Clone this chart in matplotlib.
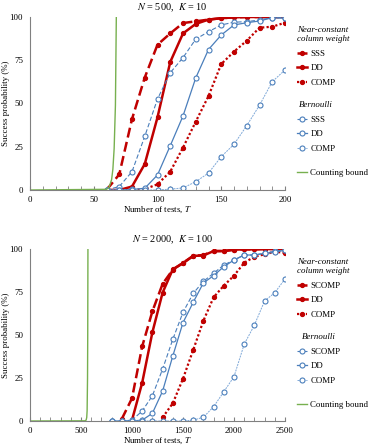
import matplotlib
matplotlib.use("Agg")
import matplotlib.pyplot as plt

plt.rcParams['font.family'] = ['Liberation Serif', 'DejaVu Serif']
plt.rcParams['mathtext.fontset'] = 'stix'
plt.rcParams['font.size'] = 6.4

# ---- N = 500, K = 10 ----
t1 = [60, 70, 80, 90, 100, 110, 120, 130, 140, 150, 160, 170, 180, 190, 200]
nc_sss_1 = [0, 9, 41, 65, 84, 90.5, 96.5, 97.5, 98.5, 99.3, 99.8, 100, 100, 100, 100]
nc_dd_1 = [0, 0, 2, 15, 42, 74, 90.5, 96, 98.5, 99.3, 99.8, 100, 100, 100, 100]
nc_comp_1 = [0, 0, 0, 0.5, 3.3, 10.6, 24.5, 39.5, 54.3, 72.8, 80, 86.3, 93.8, 94.4, 96.7]
be_sss_1 = [0, 2, 10.6, 31, 52.6, 67.8, 76.5, 87.2, 91.5, 95.4, 97, 97.3, 98.3, 99.6, 99.6]
be_dd_1 = [0, 0, 0.3, 1, 8.7, 25.6, 42.8, 64.8, 81.2, 89.6, 95.4, 96.7, 97.7, 99.6, 99.3]
be_comp_1 = [0, 0, 0, 0, 0, 0.5, 1.2, 4.8, 9.8, 19.3, 26.4, 37.2, 49, 62.6, 69.4]
cb_t1 = [0, 60, 62, 64, 65, 66, 67, 67.7]
cb_p1 = [0, 0.4, 1.5, 6, 12, 24, 49, 100]

# ---- N = 2000, K = 100 ----
t2 = [800, 900, 1000, 1100, 1200, 1300, 1400, 1500, 1600, 1700, 1800,
      1900, 2000, 2100, 2200, 2300, 2400, 2500]
t2_scomp = t2[1:]
nc_scomp_2 = [1.2, 13.2, 43.4, 63.8, 79.7, 88, 92, 96, 96.5, 98.8, 98.8,
              99.6, 99.8, 99.8, 100, 100, 100]
t2_dd = t2[2:]
nc_dd_2 = [0.5, 22.3, 51.6, 74.6, 88.2, 91.7, 96, 96.2, 98.8, 98.8,
           99.6, 99.8, 99.8, 100, 100, 100]
t2_comp = t2[5:]
nc_comp_2 = [2.1, 10.3, 24.6, 41.3, 58.3, 71.9, 78.7, 84.5, 92, 95.5, 96.9, 98.4, 97.8]
be_scomp_2 = [0, 0, 0.5, 5.8, 14.7, 30.2, 47.5, 63.2, 74.2, 81.2, 85.9,
              90.7, 93.6, 96.5, 96.5, 97.5, 98.8, 99.4]
be_dd_2 = [0, 0, 0, 0.5, 4.5, 17.4, 37.8, 57.2, 69, 80.3, 84.5,
           89.7, 93.6, 96.5, 96.5, 97.5, 98, 99.4]
be_comp_2 = [0, 0, 0, 0, 0, 0, 0, 0, 0.5, 2.2, 8.3, 17, 25.8, 44.6,
             55.8, 69.8, 74.6, 82.6]
cb_t2 = [0, 540, 550, 556, 560, 564, 566, 568]
cb_p2 = [0, 0.1, 0.5, 2, 6, 25, 50, 100]

RED = '#c00000'
BLUE = '#4a7ebb'
LBLUE = '#7ea8d8'
GREEN = '#77b04f'

red_kw = dict(color=RED, marker='o', markersize=2.8, markerfacecolor=RED, markeredgecolor=RED)
blue_kw = dict(marker='o', markersize=3.6, markerfacecolor='white', markeredgewidth=0.8)

fig = plt.figure(figsize=(3.68, 4.48), dpi=100)
ax1 = fig.add_axes([30/368, 1 - 190/448, 255/368, 173/448])
ax2 = fig.add_axes([30/368, 1 - 421/448, 255/368, 172/448])


def draw(ax, xs, nc, be, labels, cb, xmax, major, minor, title, legend_top):
    (x_a, y_a), (x_b, y_b), (x_c, y_c) = nc
    h1, = ax.plot(x_a, y_a, linestyle=(0, (4, 1.8)), linewidth=1.8, **red_kw)
    h2, = ax.plot(x_b, y_b, linestyle='-', linewidth=1.8, **red_kw)
    h3, = ax.plot(x_c, y_c, linestyle=(0, (1, 1)), linewidth=1.6, **red_kw)
    h4, = ax.plot(xs, be[0], color=BLUE, linestyle=(0, (4, 2)), linewidth=0.8,
                  markeredgecolor=BLUE, **blue_kw)
    h5, = ax.plot(xs, be[1], color=BLUE, linestyle='-', linewidth=0.9,
                  markeredgecolor=BLUE, **blue_kw)
    h6, = ax.plot(xs, be[2], color=LBLUE, linestyle=(0, (2, 1)), linewidth=0.7,
                  markeredgecolor=BLUE, **blue_kw)
    h7, = ax.plot(cb[0], cb[1], color=GREEN, linewidth=1.0)

    ax.set_xlim(0, xmax)
    ax.set_ylim(0, 100)
    ax.set_xticks(range(0, xmax + 1, major))
    ax.set_xticks(range(0, xmax + 1, minor), minor=True)
    ax.set_yticks([0, 25, 50, 75, 100])
    ax.tick_params(axis='x', which='both', direction='in', length=3, color='#808080', pad=4)
    ax.tick_params(axis='y', length=0, pad=5)
    for s in ['top', 'right']:
        ax.spines[s].set_visible(False)
    for s in ['left', 'bottom']:
        ax.spines[s].set_color('#808080')
        ax.spines[s].set_linewidth(0.8)
    ax.set_xlabel(r'Number of tests, $T$', labelpad=1)
    ax.set_ylabel('Success probability (%)')
    ax.yaxis.set_label_coords(-0.08, 0.5)
    ax.set_title(title, fontsize=7.4, pad=5, x=0.56)

    common = dict(loc='upper left', frameon=False, handlelength=1.15, handletextpad=0.35,
                  borderpad=0, borderaxespad=0, labelspacing=0.72, numpoints=1,
                  fontsize=6.4, bbox_transform=fig.transFigure)
    tprops = {'style': 'italic', 'size': 6.4}
    lg1 = ax.legend([h1, h2, h3], labels, title='Near-constant\ncolumn weight',
                    bbox_to_anchor=(297/368, 1 - legend_top/448), alignment='left',
                    title_fontproperties=tprops, **common)
    ax.add_artist(lg1)
    lg2 = ax.legend([h4, h5, h6], labels, title='Bernoulli',
                    bbox_to_anchor=(297/368, 1 - (legend_top + 75)/448),
                    title_fontproperties=tprops, **common)
    ax.add_artist(lg2)
    ax.legend([h7], ['Counting bound'],
              bbox_to_anchor=(297/368, 1 - (legend_top + 143)/448), **common)


draw(ax1, t1,
     [(t1, nc_sss_1), (t1, nc_dd_1), (t1, nc_comp_1)],
     [be_sss_1, be_dd_1, be_comp_1],
     ['SSS', 'DD', 'COMP'], (cb_t1, cb_p1), 200, 50, 10,
     r'$N$ = 500,  $K$ = 10', 26)
draw(ax2, t2,
     [(t2_scomp, nc_scomp_2), (t2_dd, nc_dd_2), (t2_comp, nc_comp_2)],
     [be_scomp_2, be_dd_2, be_comp_2],
     ['SCOMP', 'DD', 'COMP'], (cb_t2, cb_p2), 2500, 500, 100,
     r'$N$ = 2000,  $K$ = 100', 258)

fig.savefig('out.png', dpi=100)
